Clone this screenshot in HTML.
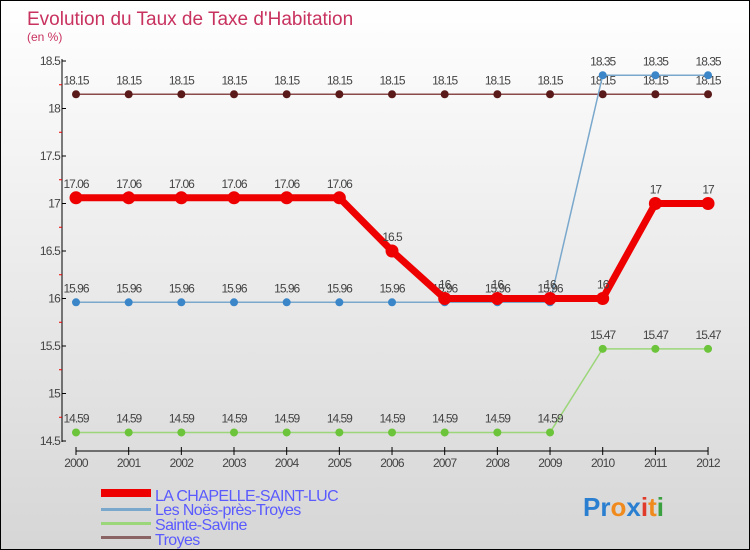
<!DOCTYPE html>
<html><head><meta charset="utf-8"><style>
body{margin:0}
#c{width:750px;height:550px;position:relative;box-sizing:border-box;border:1px solid #000;background:linear-gradient(#ffffff,#d6d6d6);font-family:"Liberation Sans",sans-serif;overflow:hidden}
text{font-family:"Liberation Sans",sans-serif}
</style></head><body>
<div id="c">
<svg id="s" width="750" height="550">
<text x="26" y="24" font-size="19" fill="#c8325f">Evolution du Taux de Taxe d'Habitation</text>
<text x="26" y="40" font-size="12" fill="#c8325f">(en %)</text>
<g id="axes"></g><g id="series"></g>
<g>
<rect x="100" y="488" width="50" height="8" fill="#e00"/>
<text x="154" y="500" font-size="16" fill="#5a5aff" letter-spacing="-0.6">LA CHAPELLE-SAINT-LUC</text>
<rect x="100" y="507" width="50" height="3" fill="#7aa8cc"/>
<text x="154" y="514" font-size="16" fill="#5a5aff" letter-spacing="-0.6">Les Noës-près-Troyes</text>
<rect x="100" y="521" width="50" height="3" fill="#9cd67a"/>
<text x="154" y="529" font-size="16" fill="#5a5aff" letter-spacing="-0.6">Sainte-Savine</text>
<rect x="100" y="535" width="50" height="3" fill="#8a6464"/>
<text x="154" y="544" font-size="16" fill="#5a5aff" letter-spacing="-0.6">Troyes</text>
</g>
<text x="582" y="515" font-size="26" font-weight="bold"><tspan fill="#2a7fd0">Pr</tspan><tspan fill="#f08a1c">o</tspan><tspan fill="#2a7fd0">x</tspan><tspan fill="#e03a2a">i</tspan><tspan fill="#f08a1c">t</tspan><tspan fill="#3aa040">i</tspan></text>
</svg>
</div>
<script>
const years=[2000,2001,2002,2003,2004,2005,2006,2007,2008,2009,2010,2011,2012];
const yTicks=[14.5,15,15.5,16,16.5,17,17.5,18,18.5];
const chapelle=[17.06,17.06,17.06,17.06,17.06,17.06,16.5,16,16,16,16,17,17];
const noes=[15.96,15.96,15.96,15.96,15.96,15.96,15.96,15.96,15.96,15.96,18.35,18.35,18.35];
const savine=[14.59,14.59,14.59,14.59,14.59,14.59,14.59,14.59,14.59,14.59,15.47,15.47,15.47];
const troyes=[18.15,18.15,18.15,18.15,18.15,18.15,18.15,18.15,18.15,18.15,18.15,18.15,18.15];
const NS="http://www.w3.org/2000/svg";
function x(i){return 75+i*52.67;}
function y(v){return 60+(18.5-v)*95;}
function mk(t,a,p){const e=document.createElementNS(NS,t);for(const k in a)e.setAttribute(k,a[k]);p.appendChild(e);return e;}
const ax=document.getElementById('axes');
const yl=mk('line',{x1:61,y1:58,x2:61,y2:441,stroke:'#000'},ax);


const xl=mk('line',{x1:75,y1:450,x2:707,y2:450,stroke:'#000'},ax);


yTicks.forEach(v=>{
 mk('line',{x1:61,y1:y(v),x2:65,y2:y(v),stroke:'#000'},ax);
 if(v<18.5)mk('line',{x1:58,y1:y(v+0.25),x2:61,y2:y(v+0.25),stroke:'#e00'},ax);
 const t=mk('text',{x:59,y:y(v)+4,'font-size':12,'text-anchor':'end',fill:'#444','letter-spacing':'-0.8'},ax);
 t.textContent=v;
 
 
});
years.forEach((yr,i)=>{
 mk('line',{x1:x(i),y1:446,x2:x(i),y2:454,stroke:'#000'},ax);
 const t=mk('text',{x:x(i),y:466,'font-size':12,'text-anchor':'middle',fill:'#444','letter-spacing':'-0.8'},ax);
 t.textContent=yr;
 
 
});
const sg=document.getElementById('series');
function draw(data,name,col,w,r,fill){
 const g=mk('g',{},sg);
 
 
 const pl=mk('polyline',{points:data.map((v,i)=>x(i)+','+y(v)).join(' '),fill:'none',stroke:col,'stroke-width':w},g);
 
 
 data.forEach((v,i)=>{
  const c=mk('circle',{cx:x(i),cy:y(v),r:r,fill:fill,stroke:'none'},g);
  
  
  const t=mk('text',{x:x(i),y:y(v)-10,'font-size':12,'text-anchor':'middle',fill:'#444','letter-spacing':'-1'},g);
  t.textContent=v;
  
  
 });
}
draw(troyes,'troyes','#8a4a4a',1.5,4,'#5a1a1a');
draw(savine,'sainte-savine','#9cd67a',1.5,4,'#6cc43a');
draw(noes,'noes','#7aa8cc',1.5,4,'#3a86c8');
draw(chapelle,'chapelle','#e00',7,6.5,'#e00');
</script>
</body></html>
